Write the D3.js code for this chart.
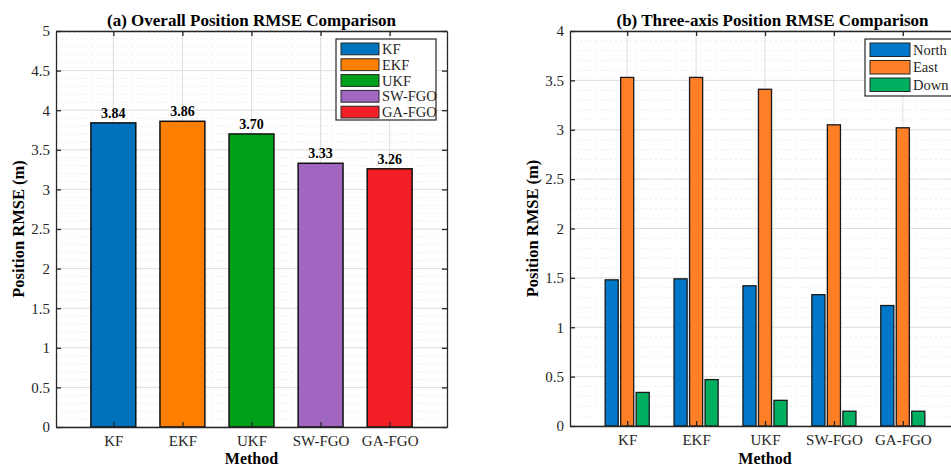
<!DOCTYPE html>
<html>
<head>
<meta charset="utf-8">
<script src="https://cdn.jsdelivr.net/npm/d3@7"></script>
<style>
body { margin: 0; background: #fff; }
svg { display: block; }
</style>
</head>
<body>
<svg id="chart" width="951" height="467"></svg>
<script>
var methods = ["KF", "EKF", "UKF", "SW-FGO", "GA-FGO"];
var overall = [3.84, 3.86, 3.70, 3.33, 3.26];
var overallColors = ["#0072BD", "#FF8000", "#00A01A", "#A066C0", "#F22026"];

var axes = ["North", "East", "Down"];
var north = [1.48, 1.49, 1.42, 1.33, 1.22];
var east = [3.53, 3.53, 3.41, 3.05, 3.02];
var down = [0.34, 0.47, 0.26, 0.15, 0.15];
var axisColors = ["#0077C8", "#FF7F27", "#00B060"];

var yTicksA = d3.range(0, 5.01, 0.5);
var yTicksB = d3.range(0, 4.01, 0.5);

var SERIF = "'Liberation Serif', 'Times New Roman', serif";
var svg = d3.select("#chart");

function fmt(v) { return d3.format("~g")(+v.toFixed(2)); }

function panel(o) {
	var g = svg.append("g");
	var x = d3.scaleLinear().domain([0.17, 5.83]).range([o.x0, o.x1]);
	var y = d3.scaleLinear().domain([0, o.ymax]).range([o.y1, o.y0]);

	// minor grid
	g.append("g").selectAll("line")
		.data(d3.range(0, o.ymax + 0.001, 0.1))
		.join("line")
		.attr("x1", o.x0).attr("x2", o.x1)
		.attr("y1", d => y(d)).attr("y2", d => y(d))
		.attr("stroke", "#ececec").attr("stroke-dasharray", "2,3");
	// major grid
	g.append("g").selectAll("line")
		.data(o.yticks)
		.join("line")
		.attr("x1", o.x0).attr("x2", o.x1)
		.attr("y1", d => y(d)).attr("y2", d => y(d))
		.attr("stroke", "#dedede");
	g.append("g").selectAll("line")
		.data(d3.range(1, 6))
		.join("line")
		.attr("x1", d => x(d)).attr("x2", d => x(d))
		.attr("y1", o.y0).attr("y2", o.y1)
		.attr("stroke", "#dedede");

	o.drawBars(g, x, y);

	// box with inward ticks
	var yl = d3.axisLeft(y).tickValues(o.yticks).tickFormat(fmt).tickSizeInner(-5).tickSizeOuter(0).tickPadding(6);
	var yr = d3.axisRight(y).tickValues(o.yticks).tickFormat("").tickSizeInner(-5).tickSizeOuter(0);
	var xb = d3.axisBottom(x).tickValues(d3.range(1, 6)).tickFormat((d, i) => methods[i]).tickSizeInner(-5).tickSizeOuter(0).tickPadding(8);
	var xt = d3.axisTop(x).tickValues(d3.range(1, 6)).tickFormat("").tickSizeInner(-5).tickSizeOuter(0);
	[[yl, "translate(" + o.x0 + ",0)"], [yr, "translate(" + o.x1 + ",0)"],
	 [xb, "translate(0," + o.y1 + ")"], [xt, "translate(0," + o.y0 + ")"]].forEach(function(a) {
		var ag = g.append("g").attr("transform", a[1]).call(a[0]);
		ag.attr("font-family", null).attr("font-size", null);
		ag.selectAll("path, line").attr("stroke", "#262626").attr("stroke-width", 1.3);
		ag.selectAll("text").attr("fill", "#262626")
			.style("font-family", SERIF).style("font-size", "15px");
	});

	g.append("text").attr("x", (o.x0 + Math.min(o.x1, 951)) / 2 + o.titleShift).attr("y", 26)
		.attr("text-anchor", "middle").attr("font-weight", "bold")
		.style("font-family", SERIF).style("font-size", "17px")
		.text(o.title);
	g.append("text").attr("x", x(3)).attr("y", 464)
		.attr("text-anchor", "middle").attr("font-weight", "bold")
		.style("font-family", SERIF).style("font-size", "16px")
		.text("Method");
	g.append("text")
		.attr("transform", "translate(" + o.ylabX + "," + ((o.y0 + o.y1) / 2) + ") rotate(-90)")
		.attr("text-anchor", "middle").attr("font-weight", "bold")
		.style("font-family", SERIF).style("font-size", "16.5px")
		.text("Position RMSE (m)");
	return g;
}

function legend(g, names, colors, lx, ly, w, h, rowH, swW) {
	g.append("rect").attr("x", lx).attr("y", ly).attr("width", w).attr("height", h)
		.attr("fill", "#fff").attr("stroke", "#262626").attr("stroke-width", 1.2);
	names.forEach(function(n, i) {
		g.append("rect").attr("x", lx + 5).attr("y", ly + 4 + i * rowH).attr("width", swW).attr("height", rowH - 4)
			.attr("fill", colors[i]).attr("stroke", "#262626").attr("stroke-width", 1);
		g.append("text").attr("x", lx + swW + 8).attr("y", ly + 4 + i * rowH + (rowH - 4) / 2 + 5)
			.style("font-family", SERIF).style("font-size", "14.5px")
			.attr("fill", "#262626").text(n);
	});
}

// panel (a)
var ga = panel({
	x0: 56, x1: 447, y0: 31, y1: 427, ymax: 5, yticks: yTicksA, ylabX: 24, titleShift: 0,
	title: "(a) Overall Position RMSE Comparison",
	drawBars: function(g, x, y) {
		var bw = x(1.65) - x(1);
		g.selectAll("rect.bar").data(overall).join("rect").attr("class", "bar")
			.attr("x", (d, i) => x(i + 1) - bw / 2).attr("width", bw)
			.attr("y", d => y(d)).attr("height", d => y(0) - y(d))
			.attr("fill", (d, i) => overallColors[i]).attr("stroke", "#111").attr("stroke-width", 1.5);
		g.selectAll("text.val").data(overall).join("text").attr("class", "val")
			.attr("x", (d, i) => x(i + 1)).attr("y", d => y(d) - 5)
			.attr("text-anchor", "middle").attr("font-weight", "bold")
			.style("font-family", SERIF).style("font-size", "14px")
			.text(d => d.toFixed(2));
	}
});
legend(ga, methods, overallColors, 336, 39, 100, 81, 15.8, 38);

// panel (b)
var series = [north, east, down];
var gb = panel({
	x0: 570, x1: 960, y0: 31, y1: 426, ymax: 4, yticks: yTicksB, ylabX: 538, titleShift: 12,
	title: "(b) Three-axis Position RMSE Comparison",
	drawBars: function(g, x, y) {
		var bw = x(1.19) - x(1);
		var off = x(1.225) - x(1);
		series.forEach(function(s, k) {
			g.append("g").selectAll("rect").data(s).join("rect")
				.attr("x", (d, i) => x(i + 1) + (k - 1) * off - bw / 2).attr("width", bw)
				.attr("y", d => y(d)).attr("height", d => y(0) - y(d))
				.attr("fill", axisColors[k]).attr("stroke", "#1a1a1a").attr("stroke-width", 1.3);
		});
	}
});
legend(gb, axes, axisColors, 865, 39, 90, 57, 17.5, 40);
</script>
</body>
</html>
